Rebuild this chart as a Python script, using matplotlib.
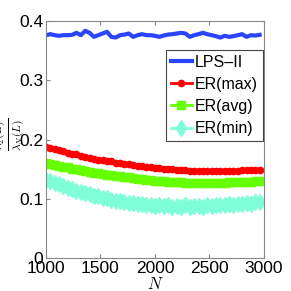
import numpy as np
import matplotlib
matplotlib.use("Agg")
import matplotlib.pyplot as plt

plt.rcParams['font.family'] = ['Liberation Sans', 'DejaVu Sans']
plt.rcParams['mathtext.fontset'] = 'cm'

# network sizes
N = list(range(1000, 3000, 40))

lps_ii = [0.376, 0.3777, 0.376, 0.3749, 0.376, 0.376, 0.3766, 0.380, 0.376, 0.3834,
          0.380, 0.3732, 0.376, 0.3788, 0.3817, 0.3732, 0.372, 0.376, 0.377, 0.3788,
          0.3732, 0.376, 0.3777, 0.376, 0.376, 0.3749, 0.3732, 0.3754, 0.377, 0.3777,
          0.3788, 0.380, 0.3788, 0.3732, 0.376, 0.3777, 0.380, 0.3777, 0.376, 0.3743,
          0.372, 0.3749, 0.3732, 0.3743, 0.376, 0.3777, 0.3732, 0.376, 0.3754, 0.3766]

er_max = [0.188, 0.186, 0.184, 0.182, 0.180, 0.178, 0.176, 0.175, 0.173, 0.171,
          0.169, 0.168, 0.166, 0.165, 0.164, 0.163, 0.161, 0.160, 0.159, 0.158,
          0.157, 0.156, 0.155, 0.154, 0.153, 0.1525, 0.152, 0.151, 0.150, 0.1495,
          0.149, 0.1485, 0.148, 0.1475, 0.147, 0.147, 0.1465, 0.1465, 0.1465, 0.1465,
          0.147, 0.147, 0.147, 0.1475, 0.1475, 0.148, 0.148, 0.1485, 0.1485, 0.149]

er_avg = [0.160, 0.159, 0.157, 0.156, 0.154, 0.153, 0.151, 0.150, 0.148, 0.147,
          0.145, 0.144, 0.143, 0.142, 0.141, 0.140, 0.139, 0.138, 0.137, 0.136,
          0.135, 0.134, 0.133, 0.132, 0.131, 0.1305, 0.130, 0.1295, 0.129, 0.1285,
          0.128, 0.128, 0.1275, 0.127, 0.127, 0.127, 0.127, 0.127, 0.127, 0.127,
          0.1275, 0.1275, 0.128, 0.128, 0.1285, 0.1285, 0.129, 0.129, 0.1295, 0.130]

er_min = [0.132, 0.130, 0.126, 0.125, 0.121, 0.119, 0.117, 0.114, 0.112, 0.109,
          0.108, 0.105, 0.104, 0.102, 0.101, 0.098, 0.097, 0.096, 0.094, 0.093,
          0.093, 0.091, 0.091, 0.089, 0.090, 0.088, 0.089, 0.088, 0.089, 0.087,
          0.088, 0.087, 0.089, 0.087, 0.088, 0.088, 0.087, 0.089, 0.088, 0.089,
          0.090, 0.089, 0.091, 0.090, 0.092, 0.091, 0.093, 0.092, 0.094, 0.094]

fig = plt.figure(figsize=(2.91, 2.91), dpi=100)
ax = fig.add_axes([0.158, 0.113, 0.749, 0.815])

ax.plot(N, lps_ii, color='#2a44ff', lw=3, label='LPS–II')
ax.plot(N, er_max, color='#ff0000', lw=2, marker='o', ms=4.5, mec='#ff0000', label='ER(max)')
ax.plot(N, er_avg, color='#66ff00', lw=2, marker='s', ms=6, mec='#66ff00', label='ER(avg)')
ax.plot(N, er_min, color='#7fffd8', lw=2, marker='d', ms=8, mec='#7fffd8', label='ER(min)')

ax.set_xlim(1000, 3000)
ax.set_ylim(0, 0.4)
ax.set_xticks([1000, 1500, 2000, 2500, 3000])
ax.set_yticks([0, 0.1, 0.2, 0.3, 0.4])
ax.set_yticklabels(['0', '0.1', '0.2', '0.3', '0.4'])
ax.tick_params(direction='in', top=True, right=True, labelsize=12.5, length=3,
               color='#888888', pad=2)
for s in ax.spines.values():
    s.set_color('#888888')

ax.set_xlabel('$N$', fontsize=12, labelpad=0)
# y label placed by hand, like the original it sits right at the left edge
fig.text(9 / 291, 1 - 134 / 291, r'$\frac{\lambda_2(L)}{\lambda_N(L)}$', fontsize=12,
         rotation=90, ha='center', va='center')

leg = ax.legend(loc='upper right', bbox_to_anchor=(0.995, 0.878), fontsize=11.5,
                handlelength=1.3, handletextpad=0.2, borderpad=0.3,
                labelspacing=0.45, borderaxespad=0, fancybox=False, framealpha=1)
leg.get_frame().set_edgecolor('#444444')
leg.get_frame().set_linewidth(0.8)

fig.savefig('out.png', dpi=100)
